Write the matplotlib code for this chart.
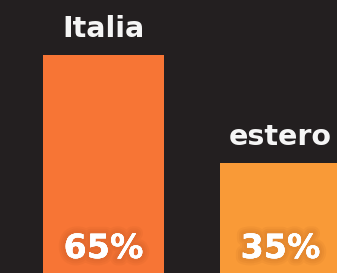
import matplotlib
matplotlib.use('Agg')
import matplotlib.pyplot as plt
import matplotlib.patheffects as pe

# dati
categorie = ['Italia', 'estero']
percentuali = [65, 35]
colori = ['#f77535', '#f99a37']

sfondo = '#231f20'

fig = plt.figure(figsize=(3.37, 2.73), dpi=100, facecolor=sfondo)
ax = fig.add_axes([0, 0, 1, 1])
ax.set_facecolor(sfondo)

pos = [0, 1]
ax.bar(pos, percentuali, width=0.684, color=colori)

# ombra morbida sotto le percentuali
ombra = [pe.withStroke(linewidth=lw, foreground='#8a3a10', alpha=0.06) for lw in (10, 7, 4)]
ombra.append(pe.Normal())

for x, cat, p in zip(pos, categorie, percentuali):
    ax.text(x, p + 5.0, cat, ha='center', va='baseline', color='#f5f5f5',
            fontsize=20.5, fontweight='bold', family='DejaVu Sans')
    ax.text(x, 8.6, f'{p}%', ha='center', va='baseline', color='white',
            fontsize=24, fontweight='heavy', family='DejaVu Sans',
            path_effects=ombra)

ax.set_xlim(-0.585, 1.319)
ax.set_ylim(4.44, 80.28)
ax.axis('off')

fig.savefig('out.png', dpi=100, facecolor=sfondo)
